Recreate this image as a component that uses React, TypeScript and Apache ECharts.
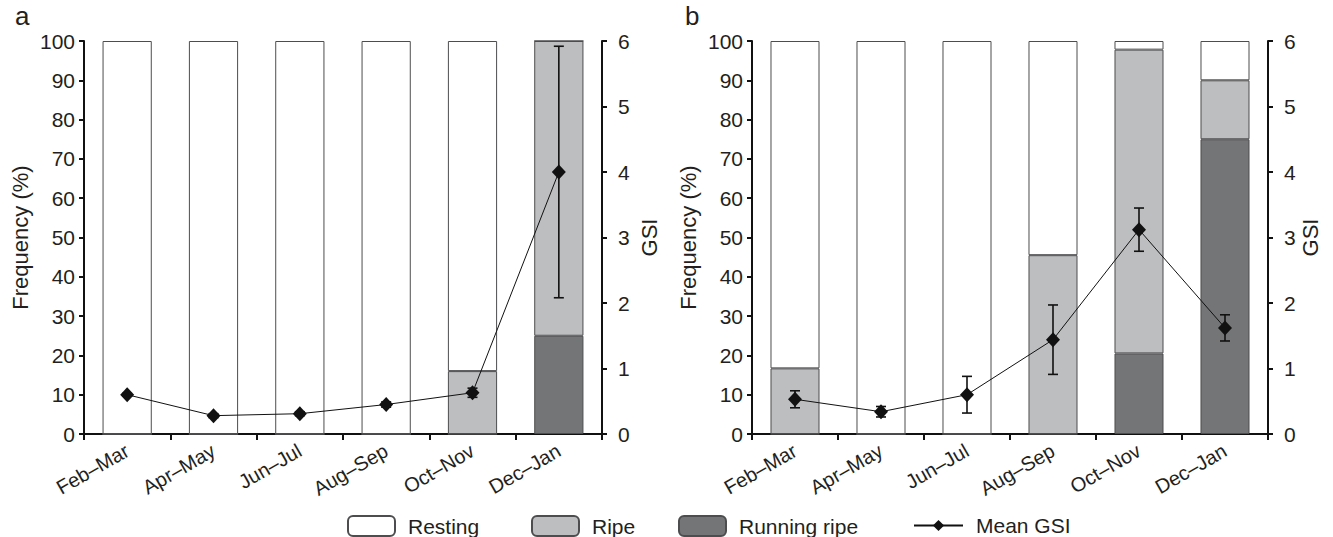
import React, { useEffect, useRef } from "react";
import * as echarts from "echarts";

const categories = ["Feb–Mar", "Apr–May", "Jun–Jul", "Aug–Sep", "Oct–Nov", "Dec–Jan"];
const freqTicks = { min: 0, max: 100, interval: 10 };
const gsiTicks = { min: 0, max: 6, interval: 1 };

// Panel a
const aResting = [100, 100, 100, 100, 84, 0];
const aRipe = [0, 0, 0, 0, 16, 75];
const aRunning = [0, 0, 0, 0, 0, 25];
const aGsi = [0.6, 0.28, 0.31, 0.45, 0.63, 4.0];
const aErr = [0.02, 0.03, 0.03, 0.04, 0.07, 1.92];

// Panel b
const bResting = [83.3, 100, 100, 54.5, 2.2, 10];
const bRipe = [16.7, 0, 0, 45.5, 77.3, 15];
const bRunning = [0, 0, 0, 0, 20.5, 75];
const bGsi = [0.53, 0.34, 0.6, 1.44, 3.12, 1.62];
const bErr = [0.13, 0.08, 0.28, 0.53, 0.33, 0.2];

const FONT = "'Liberation Sans', Arial, Helvetica, sans-serif";
const TXT = "#231f20";
const C_REST = "#ffffff";
const C_RIPE = "#bdbec0";
const C_RUN = "#747577";
const BORDER = "#4d4d4f";

function errorRender(params: any, api: any) {
  const x = api.value(0);
  const lo = api.coord([x, api.value(1)]);
  const hi = api.coord([x, api.value(2)]);
  const w = 5;
  const st = { stroke: "#111", lineWidth: 1.6 };
  return {
    type: "group",
    children: [
      { type: "line", shape: { x1: lo[0], y1: lo[1], x2: hi[0], y2: hi[1] }, style: st },
      { type: "line", shape: { x1: lo[0] - w, y1: lo[1], x2: lo[0] + w, y2: lo[1] }, style: st },
      { type: "line", shape: { x1: hi[0] - w, y1: hi[1], x2: hi[0] + w, y2: hi[1] }, style: st },
    ],
  };
}

export default function App() {
  const ref = useRef<HTMLDivElement>(null);
  useEffect(() => {
    if (!ref.current) return;
    const chart = echarts.init(ref.current, null, { renderer: "svg" });

    const xAxis = (gi: number) => ({
      type: "category",
      gridIndex: gi,
      data: categories,
      axisLine: { lineStyle: { color: "#111", width: 2 } },
      axisTick: { show: true, length: 6, lineStyle: { color: "#111", width: 2 } },
      axisLabel: { rotate: 30, fontSize: 20, color: TXT, fontFamily: FONT, margin: 15 },
    });
    const yLeft = (gi: number) => ({
      type: "value",
      gridIndex: gi,
      position: "left",
      ...freqTicks,
      name: "Frequency (%)",
      nameLocation: "middle",
      nameGap: 53,
      nameRotate: 90,
      nameTextStyle: { fontSize: 22, color: TXT, fontFamily: FONT },
      axisLine: { show: true, lineStyle: { color: "#111", width: 2 } },
      axisTick: { show: true, length: 5, lineStyle: { color: "#111", width: 2 } },
      axisLabel: { fontSize: 21, color: TXT, fontFamily: FONT, margin: 9 },
      splitLine: { show: false },
    });
    const yRight = (gi: number, gap: number) => ({
      type: "value",
      gridIndex: gi,
      position: "right",
      ...gsiTicks,
      name: "GSI",
      nameLocation: "middle",
      nameGap: gap,
      nameRotate: 90,
      nameTextStyle: { fontSize: 22, color: TXT, fontFamily: FONT },
      axisLine: { show: true, lineStyle: { color: "#111", width: 2 } },
      axisTick: { show: true, length: 5, lineStyle: { color: "#111", width: 2 } },
      axisLabel: { fontSize: 21, color: TXT, fontFamily: FONT, margin: 16 },
      splitLine: { show: false },
    });

    const bars = (xi: number, yi: number, stack: string, run: number[], ripe: number[], rest: number[]) => [
      { name: "Running ripe", data: run, color: C_RUN },
      { name: "Ripe", data: ripe, color: C_RIPE },
      { name: "Resting", data: rest, color: C_REST },
    ].map((s) => ({
      type: "bar",
      name: s.name,
      xAxisIndex: xi,
      yAxisIndex: yi,
      stack,
      data: s.data,
      barWidth: "57%",
      itemStyle: { color: s.color, borderColor: BORDER, borderWidth: 1 },
      z: 2,
    }));

    const errData = (m: number[], e: number[]) => m.map((v, i) => [i, v - e[i], v + e[i]]);

    const gsi = (xi: number, yi: number, m: number[], e: number[]) => [
      {
        type: "custom",
        name: "err",
        xAxisIndex: xi,
        yAxisIndex: yi,
        data: errData(m, e),
        encode: { x: 0, y: [1, 2] },
        renderItem: errorRender,
        z: 3,
      },
      {
        type: "line",
        name: "Mean GSI",
        xAxisIndex: xi,
        yAxisIndex: yi,
        data: m,
        symbol: "diamond",
        symbolSize: [14, 15],
        itemStyle: { color: "#111" },
        lineStyle: { color: "#111", width: 1 },
        z: 4,
      },
    ];

    const legendBase = {
      top: 510,
      itemWidth: 47,
      itemHeight: 20,
      itemGap: 10,
      textStyle: { fontSize: 21, color: TXT, fontFamily: FONT, padding: [0, 0, 0, 8] },
      selectedMode: false,
    };

    chart.setOption({
      animation: false,
      backgroundColor: "#ffffff",
      grid: [
        { left: 84, top: 41, width: 518, height: 393 },
        { left: 752, top: 41, width: 516, height: 393 },
      ],
      xAxis: [xAxis(0), xAxis(1)],
      yAxis: [yLeft(0), yRight(0, 36), yLeft(1), yRight(1, 31)],
      legend: [
        { ...legendBase, left: 342, data: ["Resting"] },
        { ...legendBase, left: 526, data: ["Ripe"] },
        { ...legendBase, left: 673, data: ["Running ripe"] },
        { ...legendBase, left: 908, itemWidth: 49, itemHeight: 14, data: ["Mean GSI"] },
      ],
      graphic: [
        { type: "text", left: 15, top: 3, style: { text: "a", fontSize: 26, fill: TXT, fontFamily: FONT } },
        { type: "text", left: 685, top: 3, style: { text: "b", fontSize: 26, fill: TXT, fontFamily: FONT } },
      ],
      series: [
        ...bars(0, 0, "a", aRunning, aRipe, aResting),
        ...bars(1, 2, "b", bRunning, bRipe, bResting),
        ...gsi(0, 1, aGsi, aErr),
        ...gsi(1, 3, bGsi, bErr),
      ],
    });
    return () => chart.dispose();
  }, []);
  return (
    <div
      ref={ref}
      style={{ position: "fixed", left: 0, top: 0, width: 1333, height: 537, background: "#fff" }}
    />
  );
}
